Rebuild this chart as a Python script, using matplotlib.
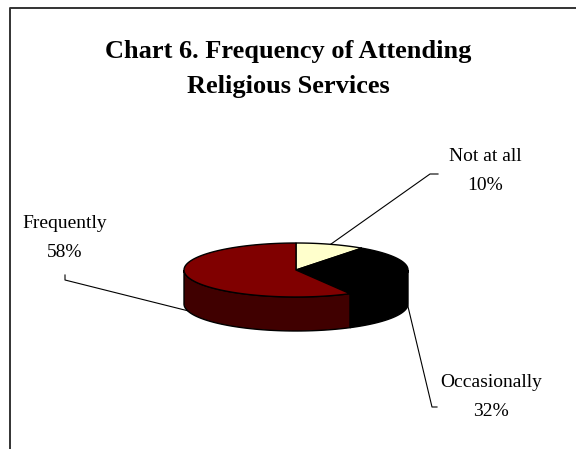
import numpy as np
import matplotlib.pyplot as plt
from matplotlib.patches import Polygon

# data
labels = ['Not at all', 'Occasionally', 'Frequently']
values = [10, 32, 58]
top_colors = ['#FFFFCC', '#000000', '#800000']
side_colors = ['#FFFFCC', '#000000', '#400000']
title = 'Chart 6. Frequency of Attending\nReligious Services'

# label layout (pixel coords, y down)
label_pos = {'Not at all': (485, 171), 'Occasionally': (491, 397), 'Frequently': (65, 238)}
elbow = {'Not at all': [(430, 174), (438, 174)],
         'Occasionally': [(432, 407), (437, 407)],
         'Frequently': [(65, 280), (65, 275)]}

W, H = 576, 449
fig = plt.figure(figsize=(W / 100, H / 100), dpi=100)
ax = fig.add_axes([0, 0, 1, 1])
ax.set_xlim(0, W)
ax.set_ylim(H, 0)
ax.axis('off')

# frame (left and top edges only visible)
ax.plot([9.5, 9.5, W], [H, 8, 8], color='#333333', lw=1.4)

ax.text(288, 69, title, ha='center', va='center', fontsize=19, fontweight='bold',
        family='Liberation Serif', linespacing=1.65)

# pie geometry
cx, cy, a, b, depth = 296, 270, 112, 27, 34


def pt(theta, dy=0):
    t = np.radians(theta)
    return cx + a * np.cos(t), cy - b * np.sin(t) + dy


fracs = np.array(values) / sum(values)
cum = np.concatenate([[0], np.cumsum(fracs)])
starts = 90 - 360 * cum[:-1]
ends = 90 - 360 * cum[1:]

# side faces (front half only)
for i in range(len(values)):
    l2, h2 = max(ends[i], -180), min(starts[i], 0)
    if h2 <= l2:
        continue
    th = np.linspace(l2, h2, 60)
    topedge = [pt(t) for t in th]
    botedge = [pt(t, depth) for t in th[::-1]]
    ax.add_patch(Polygon(topedge + botedge, closed=True, facecolor=side_colors[i],
                         edgecolor='black', lw=1, zorder=2))

# top faces
for i in range(len(values)):
    th = np.linspace(starts[i], ends[i], 100)
    pts = [(cx, cy)] + [pt(t) for t in th]
    ax.add_patch(Polygon(pts, closed=True, facecolor=top_colors[i],
                         edgecolor='black', lw=1, zorder=3))

# labels and leader lines
for i, lab in enumerate(labels):
    mid = (starts[i] + ends[i]) / 2
    front = np.sin(np.radians(mid)) < 0
    x0, y0 = pt(mid, depth if front else 0)
    xs = [x0] + [p[0] for p in elbow[lab]]
    ys = [y0] + [p[1] for p in elbow[lab]]
    ax.plot(xs, ys, color='black', lw=0.8, zorder=4)
    lx, ly = label_pos[lab]
    ax.text(lx, ly, f'{lab}\n{values[i]}%', ha='center', va='center', fontsize=14,
            family='Liberation Serif', linespacing=1.9)

fig.savefig('out.png', dpi=100)
